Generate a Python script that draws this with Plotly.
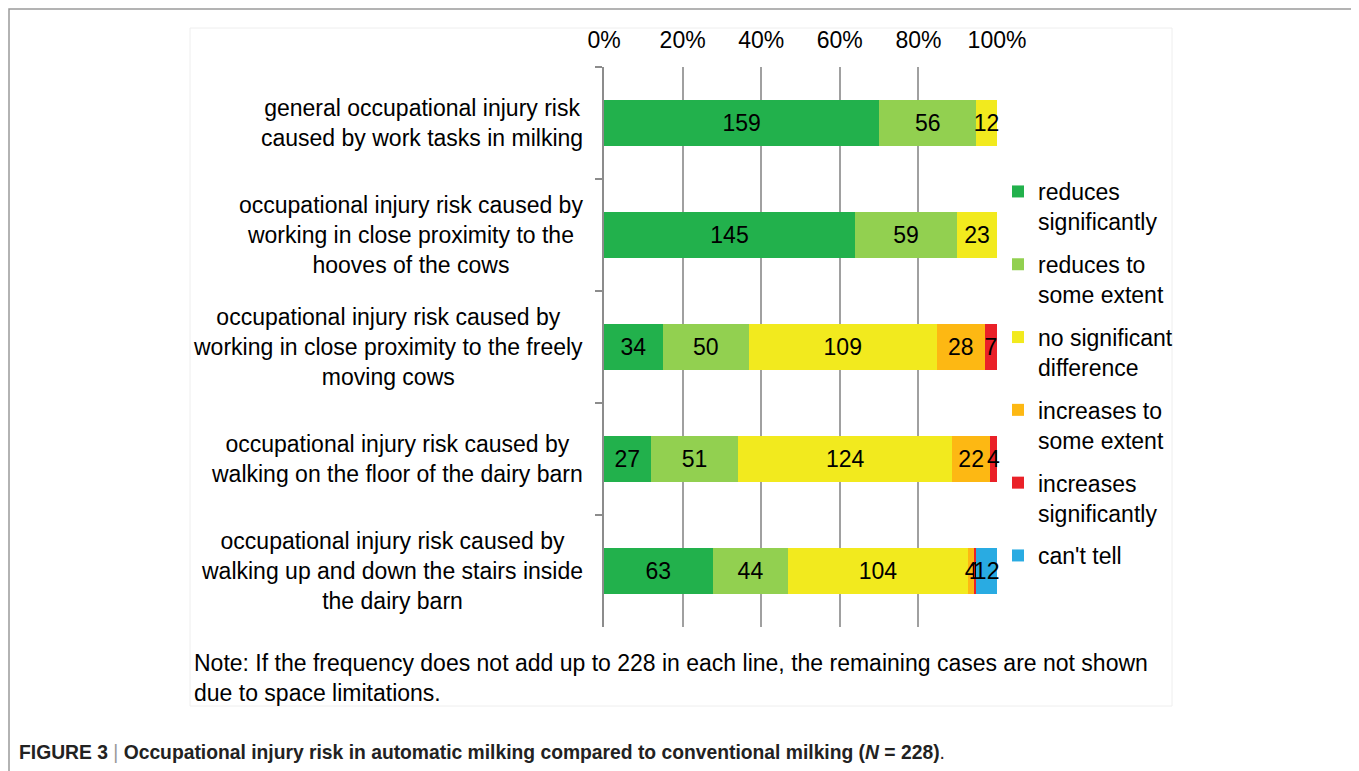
import plotly.graph_objects as go

W, H = 1359, 771
OFF = 8  # page body margin offset

categories = [
    "general occupational injury risk<br>caused by work tasks in milking",
    "occupational injury risk caused by<br>working in close proximity to the<br>hooves of the cows",
    "occupational injury risk caused by<br>working in close proximity to the freely<br>moving cows",
    "occupational injury risk caused by<br>walking on the floor of the dairy barn",
    "occupational injury risk caused by<br>walking up and down the stairs inside<br>the dairy barn",
]

series_names = [
    "reduces<br>significantly",
    "reduces to<br>some extent",
    "no significant<br>difference",
    "increases to<br>some extent",
    "increases<br>significantly",
    "can't tell",
]

reduces_significantly = [159, 145, 34, 27, 63]
reduces_some = [56, 59, 50, 51, 44]
no_difference = [12, 23, 109, 124, 104]
increases_some = [0, 0, 28, 22, 4]
increases_significantly = [0, 0, 7, 4, 1]
cant_tell = [0, 0, 0, 0, 12]

series_values = [reduces_significantly, reduces_some, no_difference,
                 increases_some, increases_significantly, cant_tell]
colors = ["#22b14c", "#92d050", "#f2ea1e", "#fdb813", "#ea2128", "#29abe2"]

x_ticks = [0, 20, 40, 60, 80, 100]
x_tick_labels = ["0%", "20%", "40%", "60%", "80%", "100%"]

note_text = ("Note: If the frequency does not add up to 228 in each line, the remaining cases are not shown"
             "<br>due to space limitations.")
caption_text = ("<b>FIGURE 3</b> <span style='color:#999'>|</span> <b>Occupational injury risk in automatic milking "
                "compared to conventional milking (<i>N</i> = 228)</b>.")

FONT = "Liberation Sans, Arial, sans-serif"
FS = 23


def fx(px):
    return (px - OFF) / W


def fy(py):
    return 1 - (py - OFF) / H


fig = go.Figure()
for i, (name, vals, col) in enumerate(zip(series_names, series_values, colors)):
    fig.add_trace(go.Bar(
        y=categories,
        x=vals,
        orientation="h",
        name=name,
        legendgroup=f"g{i}",
        marker=dict(color=col, line=dict(width=0)),
        text=[str(v) if v > 0 else "" for v in vals],
        textposition="inside",
        insidetextanchor="middle",
        textangle=0,
        textfont=dict(family=FONT, size=FS, color="black"),
        cliponaxis=False,
        hoverinfo="skip",
    ))

annotations = []
for c in categories:
    annotations.append(dict(
        x=fx(585), xref="paper", xanchor="right",
        y=c, yref="y", yanchor="middle",
        text=c, align="center", showarrow=False,
        font=dict(family=FONT, size=FS, color="black"),
    ))
annotations.append(dict(
    x=fx(192), xref="paper", xanchor="left",
    y=fy(678), yref="paper", yanchor="middle",
    text=note_text, align="left", showarrow=False,
    font=dict(family=FONT, size=FS, color="black"),
))
annotations.append(dict(
    x=fx(17), xref="paper", xanchor="left",
    y=fy(752), yref="paper", yanchor="middle",
    text=caption_text, align="left", showarrow=False,
    font=dict(family=FONT, size=19.3, color="#222"),
))

shapes = [
    dict(type="rect", xref="paper", yref="paper",
         x0=fx(9), x1=fx(1352), y0=fy(820), y1=fy(9),
         line=dict(color="#9a9a9a", width=1.5), fillcolor="rgba(0,0,0,0)", layer="below"),
    dict(type="rect", xref="paper", yref="paper",
         x0=fx(190), x1=fx(1172), y0=fy(706), y1=fy(28),
         line=dict(color="#eeeeee", width=1), fillcolor="rgba(0,0,0,0)", layer="below"),
]

fig.update_layout(
    width=W, height=H, autosize=False,
    margin=dict(l=0, r=0, t=0, b=0, pad=0, autoexpand=False),
    paper_bgcolor="white", plot_bgcolor="white",
    barmode="stack", barnorm="percent", bargap=0.59,
    uniformtext=dict(minsize=FS, mode="show"),
    font=dict(family=FONT, size=FS, color="black"),
    showlegend=True,
    legend=dict(
        x=fx(998), xanchor="left", y=fy(170), yanchor="top",
        traceorder="grouped", tracegroupgap=10,
        valign="top", bgcolor="rgba(0,0,0,0)", borderwidth=0,
        font=dict(family=FONT, size=FS, color="black"),
        itemclick=False,
    ),
    xaxis=dict(
        domain=[fx(604), fx(997)], range=[0, 100], side="top",
        tickvals=x_ticks, ticktext=x_tick_labels,
        showgrid=True, gridcolor="#a0a0a0", gridwidth=1.5,
        zeroline=False, showline=False, ticks="",
        ticklabelstandoff=13, automargin=False,
        tickfont=dict(family=FONT, size=FS, color="black"),
        fixedrange=True,
    ),
    yaxis=dict(
        domain=[fy(627), fy(67)], autorange="reversed",
        type="category", showticklabels=False, automargin=False,
        showline=True, linecolor="#8c8c8c", linewidth=1.5,
        ticks="outside", ticklen=7, tickcolor="#8c8c8c", tickwidth=1.5,
        tickson="boundaries", showgrid=False, zeroline=False,
        fixedrange=True,
    ),
    annotations=annotations,
    shapes=shapes,
)

fig.write_html("out.html")
